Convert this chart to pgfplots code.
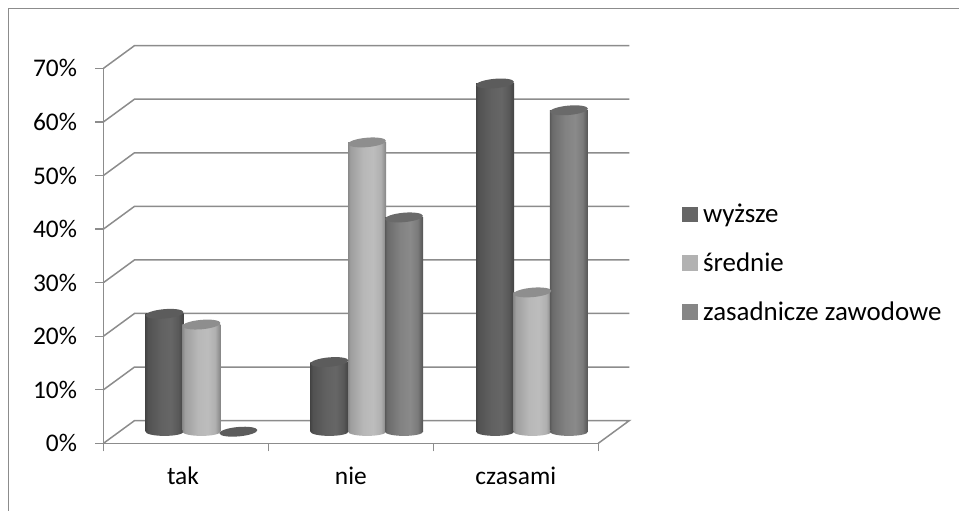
\documentclass[border=0pt]{standalone}
\usepackage{fontspec}
\setmainfont{Carlito}
\usepackage{pgfplots}
\pgfplotsset{compat=1.18}

\definecolor{wallgrey}{HTML}{8C8C8C}
\definecolor{legA}{HTML}{666666}
\definecolor{legB}{HTML}{B2B2B2}
\definecolor{legC}{HTML}{868686}
\definecolor{capA}{HTML}{5C5C5C}
\definecolor{capB}{HTML}{8E8E8E}
\definecolor{capC}{HTML}{6A6A6A}

% Cylinder sides: dark rims with a lighter band right of the middle
\pgfdeclarehorizontalshading{cylA}{100bp}{
  color(0bp)=(black!73); color(25bp)=(black!73); color(28bp)=(black!68); color(45bp)=(black!62); color(58bp)=(black!60); color(68bp)=(black!65); color(75bp)=(black!74); color(100bp)=(black!74)}
\pgfdeclarehorizontalshading{cylB}{100bp}{
  color(0bp)=(black!46); color(25bp)=(black!46); color(28bp)=(black!38); color(45bp)=(black!28); color(58bp)=(black!26); color(68bp)=(black!31); color(75bp)=(black!48); color(100bp)=(black!48)}
\pgfdeclarehorizontalshading{cylC}{100bp}{
  color(0bp)=(black!65); color(25bp)=(black!65); color(28bp)=(black!58); color(45bp)=(black!49); color(58bp)=(black!46); color(68bp)=(black!52); color(75bp)=(black!67); color(100bp)=(black!67)}

% Flat cap of a cylinder
\pgfdeclareplotmark{cylcap}{%
  \pgftransformrotate{5}%
  \pgfpathellipse{\pgfpointorigin}{\pgfqpoint{19bp}{0pt}}{\pgfqpoint{0pt}{4.7bp}}%
  \pgfusepathqfill}
% Rounded foot of a cylinder, one per side shading
\newcommand\declarefoot[1]{%
  \pgfdeclareplotmark{foot#1}{%
    \pgfpathellipse{\pgfpointorigin}{\pgfqpoint{19bp}{0pt}}{\pgfqpoint{0pt}{4.2bp}}%
    \pgfshadepath{cyl#1}{0}\pgfusepath{discard}}}
\declarefoot{A}\declarefoot{B}\declarefoot{C}

% One cylinder: series letter, position, value
\newcommand\cylinder[3]{%
  \addplot[cyl,only marks,mark=foot#1] coordinates {(#2,0)};
  \addplot[cyl,ybar,bar width=38bp,bar shift=0pt,draw=none,shading=cyl#1] coordinates {(#2,#3)};
  \addplot[cyl,only marks,mark=cylcap,mark options={fill=cap#1}] coordinates {(#2,#3)};
}

\begin{document}
\begin{tikzpicture}
\path[use as bounding box] (-103.5bp,-67.7bp) rectangle ++(959bp,511bp);
\draw[wallgrey,line width=1.3bp] (-95bp,-67.7bp) -- (-95bp,434.8bp) -- (855.5bp,434.8bp);
\begin{axis}[
  scale only axis,
  x=164.93bp, y=5.357bp,
  xmin=0, xmax=3, ymin=0, ymax=70,
  clip=false,
  axis x line=bottom, axis y line=left,
  axis line style={-,wallgrey,line width=1.5bp},
  tick align=outside,
  major tick length=8bp,
  tick style={wallgrey,line width=1.3bp},
  xtick={0,1,2,3},
  x tick label as interval,
  xticklabels={\hspace*{-6bp}tak,nie,czasami},
  ytick={0,10,...,70},
  yticklabel={\pgfmathprintnumber{\tick}\%},
  /pgf/number format/assume math mode=true,
  tick label style={font=\fontsize{25.5}{30}\selectfont,black},
  yticklabel style={xshift=-15bp},
  xticklabel style={yshift=-12bp},
  legend style={at={(682bp-103.5bp,443.3bp-202bp)},anchor=north west,draw=none,fill=none,
    font=\fontsize{27}{32}\selectfont,row sep=24.5bp,inner sep=0pt,
    /tikz/every even column/.append style={column sep=0pt}},
  legend cell align=left,
  legend image code/.code={\fill[#1] (0bp,-7.4bp) rectangle (14.7bp,7.4bp);\path[draw=none,fill=none] (0bp,0bp) -- (18.7bp,0bp);},
  cyl/.style={forget plot,yshift=11.6bp},
]
% Floor and back wall in oblique projection
\addplot[forget plot,wallgrey,line width=1.5bp] coordinates {(0,0) (0.188,4.235) (3.188,4.235) (3,0)};
\foreach \v in {10,20,...,70}{
  \pgfmathsetmacro\w{\v+4.235}
  \edef\temp{\noexpand\addplot[forget plot,wallgrey,line width=1.5bp] coordinates {(0,\v) (0.188,\w) (3.188,\w)};}
  \temp
}

% wyższe
\cylinder{A}{0.370}{22}
\cylinder{A}{1.370}{13}
\cylinder{A}{2.374}{65}
% średnie
\cylinder{B}{0.594}{20}
\cylinder{B}{1.598}{54}
\cylinder{B}{2.601}{26}
% zasadnicze zawodowe; no bar height at the first category, only the cap
\cylinder{C}{1.822}{40}
\cylinder{C}{2.822}{60}
\addplot[cyl,only marks,mark=cylcap,mark options={fill=capA}] coordinates {(0.818,0)};

\addlegendimage{legA}\addlegendentry{wyższe}
\addlegendimage{legB}\addlegendentry{średnie}
\addlegendimage{legC}\addlegendentry{zasadnicze zawodowe}
\end{axis}
\end{tikzpicture}
\end{document}
